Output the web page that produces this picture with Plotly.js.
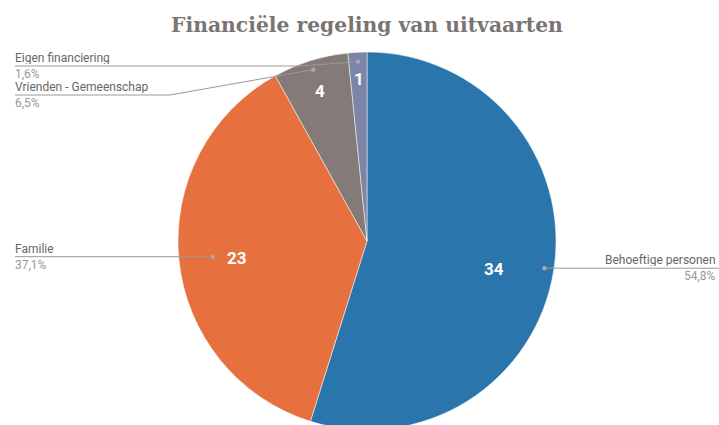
<!DOCTYPE html>
<html><head><meta charset="utf-8">
<script src="https://cdn.plot.ly/plotly-3.0.1.min.js"></script>
<style>html,body{margin:0;padding:0;overflow:hidden;background:#fff}#chart{width:719px;height:440px}</style>
</head><body><div id="chart"></div>
<script>
const labels = ['Behoeftige personen','Familie','Vrienden - Gemeenschap','Eigen financiering'];
const values = [34, 23, 4, 1];
const colors = ['#2b75ad', '#e6703e', '#847a78', '#7c85a5'];
const titleText = 'Financiële regeling van uitvaarten';

const W = 719, H = 440;
const cx = 367, cy = 241, R = 189;
const px = x => x / W, py = y => 1 - y / H;

const total = values.reduce((a,b)=>a+b,0);
const pct = values.map(v => (v/total*100).toFixed(1).replace('.', ',') + '%');
let cum = 0;
const mids = values.map(v => { const m = (cum + v/2)/total*2*Math.PI; cum += v; return m; });
const pt = (i, f) => [cx + f*R*Math.sin(mids[i]), cy - f*R*Math.cos(mids[i])];

// label layout: number radius, number vertical nudge (px), dot radius
const numR = [0.68, 0.69, 0.83, 0.86];
const numShift = [-9, -4, 0, 0];
const dotR = [0.95, 0.82, 0.95, 0.95];

const annotations = [], shapes = [];
values.forEach((v,i) => {
  const [nx, ny] = pt(i, numR[i]);
  annotations.push({x:px(nx), y:py(ny), xref:'paper', yref:'paper', text:String(v), showarrow:false, yshift:numShift[i],
    font:{family:'Roboto', size:17, color:'#ffffff', weight:'bold'}, xanchor:'center', yanchor:'middle'});
});
const lineCol = '#9a9a9a';
function seg(x0,y0,x1,y1){shapes.push({type:'line',xref:'paper',yref:'paper',x0:px(x0),y0:py(y0),x1:px(x1),y1:py(y1),line:{color:lineCol,width:1}});}
function dot(x,y){shapes.push({type:'circle',xref:'paper',yref:'paper',xsizemode:'pixel',ysizemode:'pixel',xanchor:px(x),yanchor:py(y),x0:-2.3,x1:2.3,y0:-2.3,y1:2.3,fillcolor:'#a8a8a8',line:{width:0}});}
function lab(i, x, ly, anchor){
  annotations.push({x:px(x), y:py(ly-8), xref:'paper', yref:'paper', text:labels[i], showarrow:false, xanchor:anchor, yanchor:'middle',
    height:12, borderpad:0, font:{family:'Roboto', size:12, color:'#666666'}});
  annotations.push({x:px(x), y:py(ly+8), xref:'paper', yref:'paper', text:pct[i], showarrow:false, xanchor:anchor, yanchor:'middle',
    height:12, borderpad:0, font:{family:'Roboto', size:12, color:'#999999'}});
}
// Behoeftige
{ const [dx,dy] = pt(0, dotR[0]); seg(dx,dy,719,dy); dot(dx,dy); lab(0, 717, dy, 'right'); }
// Familie
{ const [dx,dy] = pt(1, dotR[1]); seg(dx,dy,15,dy); dot(dx,dy); lab(1, 14, dy, 'left'); }
// Vrienden
{ const [dx,dy] = pt(2, dotR[2]); seg(dx,dy,170,95); seg(170,95,15,95); dot(dx,dy); lab(2, 14, 95, 'left'); }
// Eigen
{ const [dx,dy] = pt(3, dotR[3]); seg(dx,dy,300,66); seg(300,66,15,66); dot(dx,dy); lab(3, 14, 66, 'left'); }

const data = [{
  type:'pie', labels:labels, values:values, sort:false, direction:'clockwise', rotation:0,
  marker:{colors:colors, line:{color:'#ffffff', width:0.5}},
  textinfo:'none', hoverinfo:'label+value+percent',
  domain:{x:[px(cx-R), px(cx+R)], y:[py(cy+R), py(cy-R)]}
}];
const layout = {
  width:W, height:H, margin:{l:0,r:0,t:0,b:0}, showlegend:false,
  paper_bgcolor:'#ffffff',
  title:{text:titleText, x:px(367), xanchor:'center', xref:'paper', y:py(25), yref:'container', yanchor:'middle',
    font:{family:'DejaVu Serif', size:20.3, color:'#7a7472', weight:'bold'}},
  annotations:annotations, shapes:shapes
};
Plotly.newPlot('chart', data, layout, {displayModeBar:false, staticPlot:true});
</script></body></html>
